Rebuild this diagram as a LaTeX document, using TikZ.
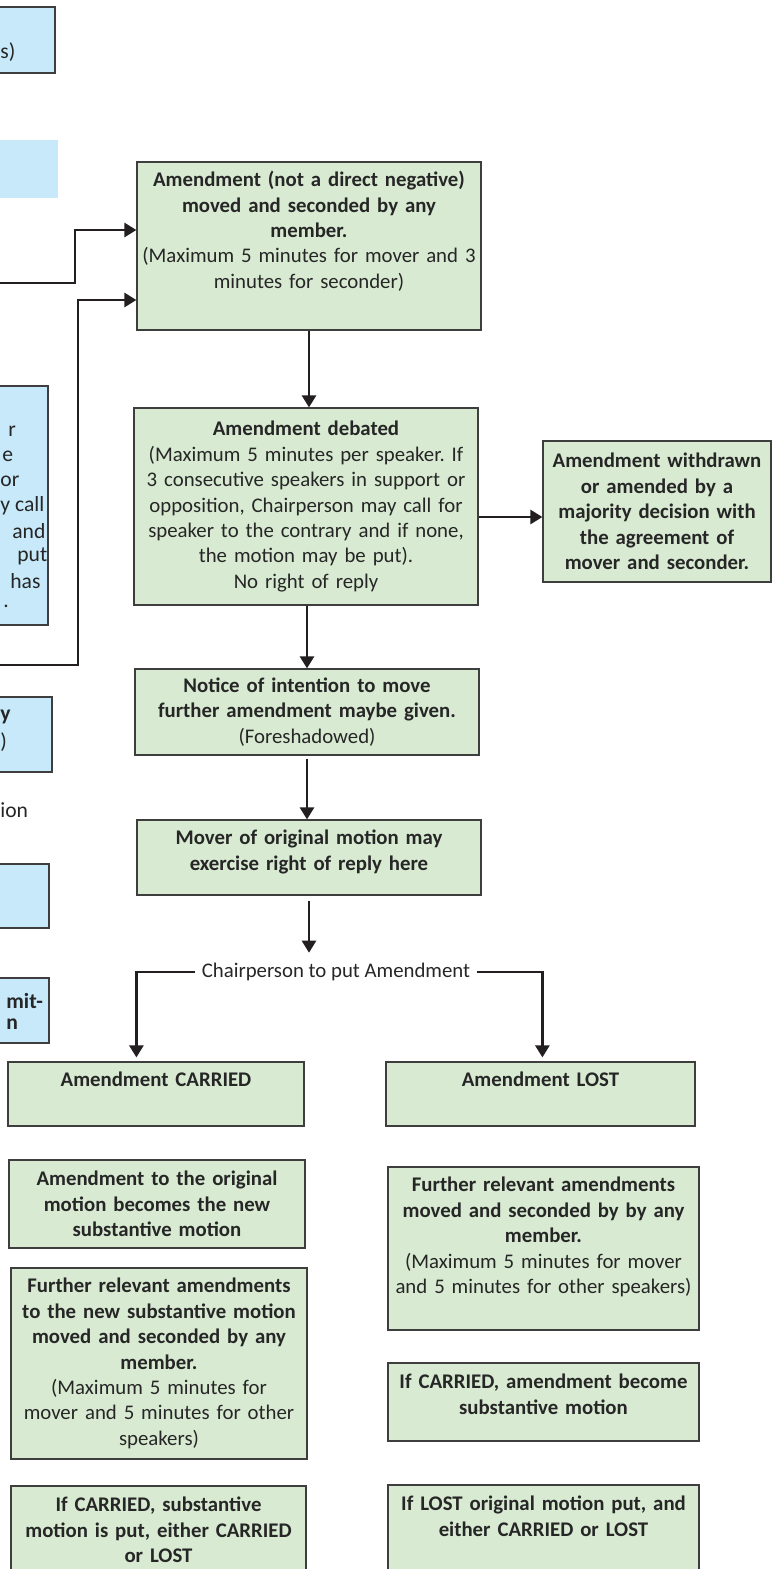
\documentclass[tikz,border=0pt]{standalone}
\usepackage{fontspec}
\setmainfont{Carlito}
\usepackage{xcolor}
\usetikzlibrary{arrows.meta, positioning, fit}
\frenchspacing

\definecolor{motiongreen}{RGB}{216,234,210}
\definecolor{motionblue}{RGB}{199,233,250}
\definecolor{boxedge}{RGB}{62,62,62}
\definecolor{flowline}{RGB}{35,31,32}

\tikzset{
  gbox/.style={draw=boxedge, fill=motiongreen, line width=0.6pt, inner sep=0pt},
  bbox/.style={draw=boxedge, fill=motionblue, line width=0.6pt, inner sep=0pt},
  txt/.style={align=center, text width=180pt, inner sep=0pt, text=black!85,
    font=\fontsize{10.4}{12.7}\selectfont},
  frag/.style={anchor=west, inner sep=0pt, text=black!85,
    font=\fontsize{10.8}{12.7}\selectfont},
  flow/.style={draw=flowline, line width=1.3pt},
  flowarr/.style={flow, -{Triangle[width=7pt,length=6pt]}},
}

\begin{document}
\begin{tikzpicture}[x=0.5pt, y=-0.5pt]
    \clip (0,0) rectangle (779,1569);

    \node[bbox, fit={(-20,7) (55,73)}] (lb1) {};
    \node[bbox, draw=none, fit={(-20,140) (58,198)}] (lb2) {};
    \node[bbox, fit={(-20,386) (48,625)}] (lb3) {};
    \node[bbox, fit={(-20,697) (52,772)}] (lb4) {};
    \node[bbox, fit={(-20,864) (49,928)}] (lb5) {};
    \node[bbox, fit={(-20,978) (49,1043)}] (lb6) {};

    \node[frag] (lb1txt) at (0,52) {s)};
    \foreach \frag/\fx/\fy in {r/8/431,e/2/456,or/0/481,y call/0/506,and/12/531,put/17/556,has/10/581,./3/606}
      \node[frag] (lb3txt\fy) at (\fx,\fy) {\frag};
    \node[frag] (lb4txta) at (0,717) {\textbf{y}};
    \node[frag] (lb4txtb) at (0,742) {)};
    \node[frag] (iontxt) at (0,810) {ion};
    \node[frag] (lb6txta) at (6,1001) {\textbf{mit-}};
    \node[frag] (lb6txtb) at (6,1024) {\textbf{n}};

    \node[gbox, fit={(137,162) (481,330)}] (amend) {};
    \node[gbox, fit={(134,408) (478,605)}] (debate) {};
    \node[gbox, fit={(543,441) (771,582)}] (withdraw) {};
    \node[gbox, fit={(135,669) (479,755)}] (notice) {};
    \node[gbox, fit={(137,820) (481,895)}] (mover) {};

    \node[txt, below=4.75pt of amend.north] (amendtxt)
      {\textbf{Amendment (not a direct negative)\\moved and seconded by any\\member.}\\
       (Maximum 5 minutes for mover and 3\\minutes for seconder)};
    \node[txt] (debatetxt) at (debate)
      {\textbf{Amendment debated}\\(Maximum 5 minutes per speaker. If\\
       3 consecutive speakers in support or\\opposition, Chairperson may call for\\
       speaker to the contrary and if none,\\the motion may be put).\\No right of reply};
    \node[txt] (withdrawtxt) at (withdraw)
      {\textbf{Amendment withdrawn\\or amended by a\\majority decision with\\
       the agreement of\\mover and seconder.}};
    \node[txt] (noticetxt) at (notice)
      {\textbf{Notice of intention to move\\further amendment maybe given.}\\(Foreshadowed)};
    \node[txt, below=5.25pt of mover.north] (movertxt)
      {\textbf{Mover of original motion may\\exercise right of reply here}};

    \node[txt, text width=, inner xsep=3pt] (chair) at (336,972) {Chairperson to put Amendment};

    \node[gbox, fit={(8,1062) (304,1126)}] (carried) {};
    \node[gbox, fit={(386,1062) (695,1126)}] (lost) {};
    \node[gbox, fit={(9,1160) (305,1248)}] (newsub) {};
    \node[gbox, fit={(11,1268) (307,1459)}] (furthernew) {};
    \node[gbox, fit={(11,1486) (306,1600)}] (putsub) {};
    \node[gbox, fit={(388,1167) (699,1330)}] (furtherlost) {};
    \node[gbox, fit={(388,1363) (699,1441)}] (becomesub) {};
    \node[gbox, fit={(388,1485) (699,1600)}] (putorig) {};

    \node[txt, below=5.25pt of carried.north] (carriedtxt) {\textbf{Amendment CARRIED}};
    \node[txt, below=5.25pt of lost.north] (losttxt) {\textbf{Amendment LOST}};
    \node[txt] (newsubtxt) at (newsub)
      {\textbf{Amendment to the original\\motion becomes the new\\substantive motion}};
    \node[txt] (furthernewtxt) at (furthernew)
      {\textbf{Further relevant amendments\\to the new substantive motion\\
       moved and seconded by any\\member.}\\(Maximum 5 minutes for\\
       mover and 5 minutes for other\\speakers)};
    \node[txt, below=5.75pt of putsub.north] (putsubtxt)
      {\textbf{If CARRIED, substantive\\motion is put, either CARRIED\\or LOST}};
    \node[txt, below=5.25pt of furtherlost.north] (furtherlosttxt)
      {\textbf{Further relevant amendments\\moved and seconded by by any\\member.}\\
       (Maximum 5 minutes for mover\\and 5 minutes for other speakers)};
    \node[txt, below=5.75pt of becomesub.north] (becomesubtxt)
      {\textbf{If CARRIED, amendment become\\substantive motion}};
    \node[txt, below=5.75pt of putorig.north] (putorigtxt)
      {\textbf{If LOST original motion put, and\\either CARRIED or LOST}};

    \coordinate (feedA) at (0,283);
    \coordinate (bendA) at (75,230);
    \coordinate (feedB) at (0,665);
    \coordinate (bendB) at (78,300);
    \coordinate (wdin) at ([yshift=-2.75pt]withdraw.west);

    \draw[flowarr] (feedA) -| (bendA) -- (amend.west |- bendA);
    \draw[flowarr] (feedB) -| (bendB) -- (amend.west |- bendB);
    \draw[flowarr] (amend.south) -- (amend.south |- debate.north);
    \draw[flowarr] (debate.east |- wdin) -- (wdin);
    \draw[flowarr] (notice.north |- debate.south) -- (notice.north);
    \draw[flowarr, shorten <=1.5pt] (notice.south) -- (notice.south |- mover.north);
    \draw[flowarr, shorten <=2.5pt, shorten >=5pt] (mover.south) -- (mover.south |- chair.north);
    \draw[flowarr, shorten >=2pt] (chair.west) -| (amend.west |- carried.north);
    \draw[flowarr, shorten >=2pt] (chair.east) -| (withdraw.west |- lost.north);
\end{tikzpicture}
\end{document}
